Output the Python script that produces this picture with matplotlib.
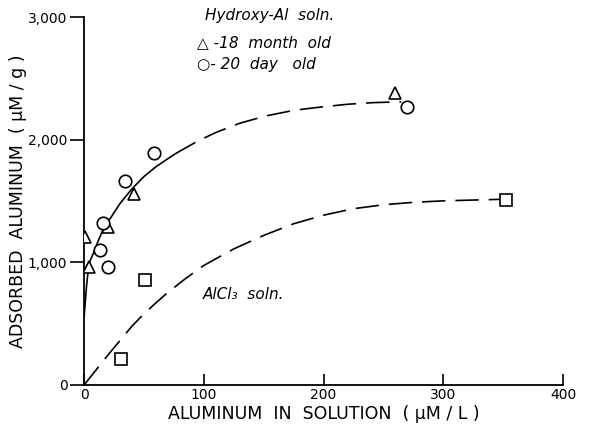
import matplotlib
matplotlib.use("Agg")
import matplotlib.pyplot as plt
from matplotlib.ticker import FixedLocator

plt.rcParams['font.family'] = ['DejaVu Sans']

# Data points
tri_x = [1, 4, 20, 42, 260]
tri_y = [1205, 960, 1290, 1560, 2385]

circ_x = [13, 16, 20, 34, 58, 270]
circ_y = [1100, 1320, 965, 1660, 1890, 2265]

sq_x = [31, 51, 352]
sq_y = [210, 860, 1510]

# Hand-drawn fit curves
hyd_solid_x = [0, 2, 4, 8, 12, 16, 22, 30, 40, 50, 60, 76]
hyd_solid_y = [550, 800, 990, 1080, 1180, 1270, 1360, 1480, 1600, 1700, 1780, 1885]
hyd_dash_x = [76, 95, 110, 130, 152, 175, 194, 220, 241, 265]
hyd_dash_y = [1885, 1990, 2059, 2135, 2195, 2240, 2263, 2290, 2303, 2310]

alc_x = [0, 20, 40, 50, 60, 70, 85, 100, 125, 150, 175, 200, 225, 250, 275, 300, 350]
alc_y = [0, 245, 480, 580, 670, 755, 870, 975, 1110, 1220, 1315, 1385, 1438, 1470, 1490, 1502, 1515]

x_ticks = [0, 100, 200, 300, 400]
x_ticklabels = ['0', '100', '200', '300', '400']
y_ticks = [0, 1000, 2000, 3000]
y_ticklabels = ['0', '1,000', '2,000', '3,000']

fig = plt.figure(figsize=(5.92, 4.41), dpi=100)
ax = fig.add_axes([0.142, 0.127, 0.809, 0.834])

ax.plot(hyd_solid_x, hyd_solid_y, color='black', lw=1.2, solid_capstyle='butt')
ax.plot(hyd_dash_x, hyd_dash_y, color='black', lw=1.2, dashes=(14, 6))
ax.plot(alc_x, alc_y, color='black', lw=1.2, dashes=(14, 6))

mk = dict(linestyle='none', markerfacecolor='white', markeredgecolor='black',
          markeredgewidth=1.2, zorder=5)
ax.plot(tri_x, tri_y, marker='^', markersize=9, **mk)
ax.plot(circ_x, circ_y, marker='o', markersize=9, **mk)
ax.plot(sq_x, sq_y, marker='s', markersize=8, **mk)

ax.set_xlim(0, 400)
ax.set_ylim(0, 3000)
ax.spines['top'].set_visible(False)
ax.spines['right'].set_visible(False)
ax.spines['left'].set_linewidth(1.3)
ax.spines['bottom'].set_linewidth(1.3)

ax.xaxis.set_major_locator(FixedLocator(x_ticks))
ax.set_xticklabels(x_ticklabels)
ax.yaxis.set_major_locator(FixedLocator(y_ticks))
ax.set_yticklabels(y_ticklabels)
ax.tick_params(axis='x', direction='in', length=8, width=1.2, labelsize=10, pad=2)
ax.tick_params(axis='y', direction='out', length=10, width=1.2, labelsize=10, pad=2)

ax.set_xlabel('ALUMINUM  IN  SOLUTION  ( µM / L )', fontsize=12.5, labelpad=2)
ax.set_ylabel('ADSORBED  ALUMINUM  ( µM / g )', fontsize=12.5, labelpad=1)

it = dict(fontstyle='italic', fontsize=11, color='black', clip_on=False)
ax.text(101, 3010, 'Hydroxy-Al  soln.', va='center', ha='left', **it)
ax.text(94, 2795, '△ -18  month  old', va='center', ha='left', **it)
ax.text(94, 2615, '○- 20  day   old', va='center', ha='left', **it)
ax.text(99, 735, 'AlCl₃  soln.', va='center', ha='left', **it)

fig.savefig('out.png', dpi=100)
